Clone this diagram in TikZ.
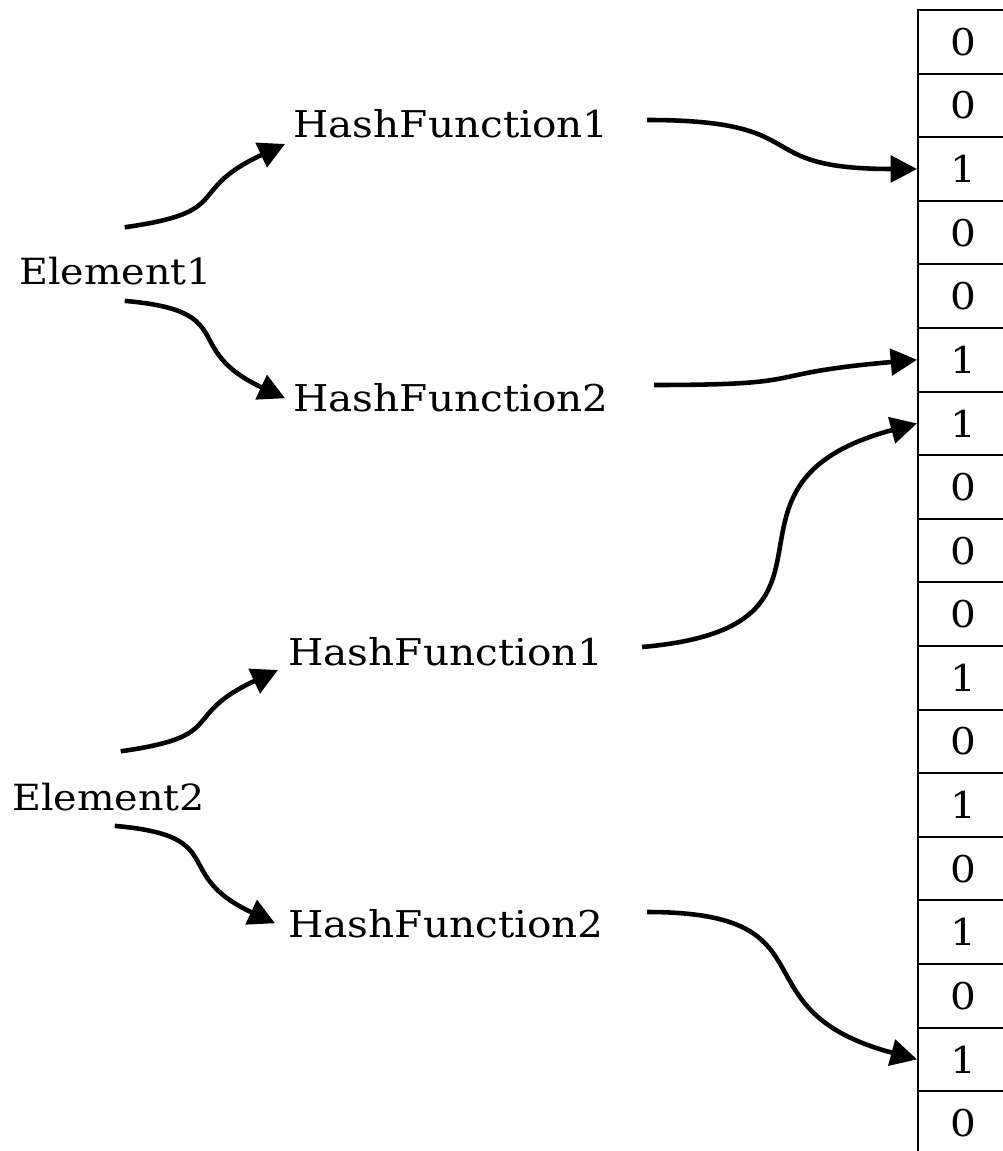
\documentclass[tikz,border=0pt]{standalone}
\usepackage{fontspec}
\setmainfont{DejaVu Serif}[FakeStretch=1.1]
\usepackage{tikz}
\usetikzlibrary{arrows.meta, calc}
\tikzset{
    element/.style={inner sep=0pt, anchor=base west, font=\fontsize{20.5}{24}\selectfont},
    hashfn/.style={inner sep=0pt, anchor=base west, font=\fontsize{21}{25}\selectfont},
    bitcell/.style={rectangle, draw=black, line width=1.1pt, minimum width=1.8cm, minimum height=1.272cm, inner sep=0pt, font=\fontsize{21}{25}\selectfont},
    arrow/.style={-{Triangle[length=15pt, width=15pt]}, line width=2.6pt, draw=black},
}

\begin{document}
\begin{tikzpicture}[x=0.02cm, y=0.02cm]
    \useasboundingbox (0,0) rectangle (1002,-1151);

    % Nodes
    \node[element] (elem1) at (19,-285) {Element1};
    \node[element] (elem2) at (12,-810) {Element2};

    \node[hashfn] (hfa1) at (293,-138) {HashFunction1};
    \node[hashfn] (hfa2) at (293,-412) {HashFunction2};
    \node[hashfn] (hfb1) at (288,-665) {HashFunction1};
    \node[hashfn] (hfb2) at (288,-937) {HashFunction2};

    \foreach \b [count=\i from 0] in {0,0,1,0,0,1,1,0,0,0,1,0,1,0,1,0,1,0}
        \node[bitcell] (bit\i) at (963,{-10-63.6*(\i+0.5)}) {\b};

    % Edges
    \draw[arrow] ($(elem1.north)+(9,30)$) to[out=8, in=205, looseness=1.6] ($(hfa1.base west)+(-8,-6)$);
    \draw[arrow] ($(elem1.south)+(9,-15)$) to[out=-5, in=155, looseness=1.6] ($(hfa2.west)+(-8,0)$);

    \draw[arrow] ($(elem2.north)+(12,31)$) to[out=8, in=205, looseness=1.6] ($(hfb1.base west)+(-10,-5)$);
    \draw[arrow] ($(elem2.south)+(6,-15)$) to[out=-5, in=155, looseness=1.6] ($(hfb2.west)+(-13,0)$);

    \draw[arrow] ($(hfa1.base east)+(38,18)$) to[out=0, in=180, looseness=1.6] (bit2.west);
    \draw[arrow] ($(hfa2.base east)+(45,27)$) to[out=0, in=185, looseness=1.6] (bit5.west);
    \draw[arrow] ($(hfb1.base east)+(38,18)$) to[out=5, in=195, looseness=1.7] (bit6.west);
    \draw[arrow] ($(hfb2.base east)+(43,25)$) to[out=0, in=165, looseness=1.6] (bit16.west);
\end{tikzpicture}
\end{document}
